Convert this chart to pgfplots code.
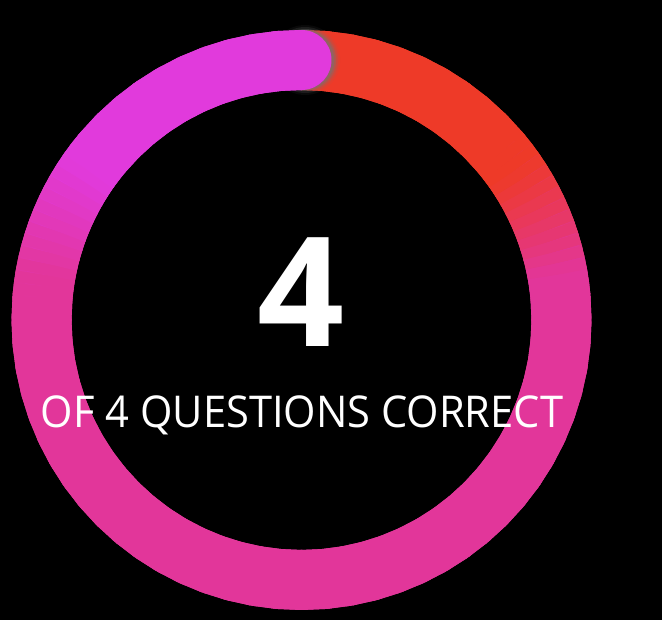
\documentclass[border=0pt]{standalone}
\usepackage{pgfplots}
\pgfplotsset{compat=1.18}
\usepackage{fontspec}
\setmainfont{Open Sans}
\pgfplotsset{colormap={ring}{rgb255(0)=(238,58,40) rgb255(55)=(238,58,40) rgb255(80)=(226,54,154) rgb255(280)=(226,54,154) rgb255(305)=(225,58,220) rgb255(360)=(225,58,220)}}
\pgfplotsset{
  ringA/.style={mesh,data cs=polar,point meta=explicit,line width=60bp,line cap=round,shader=flat},
  ringB/.style={mesh,data cs=polar,point meta=explicit,line width=60bp,line cap=butt,shader=flat}}
\def\partone{
(90,260)[0] (85,260)[5] (80,260)[10] (75,260)[15] (70,260)[20] (65,260)[25] (60,260)[30] (55,260)[35] (50,260)[40] (45,260)[45] (40,260)[50]
(37.5,260)[52.5] (35,260)[55] (32.5,260)[57.5] (30,260)[60] (27.5,260)[62.5] (25,260)[65] (22.5,260)[67.5] (20,260)[70] (17.5,260)[72.5] (15,260)[75] (12.5,260)[77.5] (10,260)[80] (7.5,260)[82.5] (5,260)[85]
(0,260)[90] (-5,260)[95] (-10,260)[100] (-15,260)[105] (-20,260)[110] (-25,260)[115] (-30,260)[120] (-35,260)[125] (-40,260)[130] (-45,260)[135] (-50,260)[140] (-55,260)[145] (-60,260)[150] (-65,260)[155] (-70,260)[160] (-75,260)[165] (-80,260)[170] (-85,260)[175] (-90,260)[180]
(-95,260)[185] (-100,260)[190] (-105,260)[195] (-110,260)[200] (-115,260)[205] (-120,260)[210] (-125,260)[215] (-130,260)[220] (-135,260)[225] (-140,260)[230] (-145,260)[235] (-150,260)[240] (-155,260)[245] (-160,260)[250] (-165,260)[255] (-170,260)[260] (-175,260)[265] (-180,260)[270] (-185,260)[275]
(-187.5,260)[277.5] (-190,260)[280] (-192.5,260)[282.5] (-195,260)[285] (-197.5,260)[287.5] (-200,260)[290] (-202.5,260)[292.5] (-205,260)[295] (-207.5,260)[297.5] (-210,260)[300] (-212.5,260)[302.5] (-215,260)[305] (-217.5,260)[307.5] (-220,260)[310]
(-225,260)[315] (-230,260)[320] (-235,260)[325] (-240,260)[330]}
\def\parttwo{
(-240,260)[330] (-245,260)[335] (-250,260)[340] (-255,260)[345] (-260,260)[350] (-265,260)[355] (-270,260)[360]}
\begin{document}
\begin{tikzpicture}
\begin{axis}[width=662bp,height=620bp,scale only axis,
  xmin=-301.5,xmax=360.5,ymin=-300,ymax=320,hide axis,clip=true,
  colormap name=ring,point meta min=0,point meta max=360]
\fill[black] (axis cs:-301.5,-300) rectangle (axis cs:360.5,320);
% ring: 4 of 4 correct = full turn, clockwise from 12 o'clock; meta = clockwise angle from top
\addplot[ringA] coordinates {\partone};
\addplot[ringB] coordinates {\partone};
% soft shadow under the end cap, slightly offset clockwise
\addplot[data cs=polar,line width=70bp,line cap=round,draw=black!55,opacity=0.08] coordinates {(89.2,260) (89.19,260)};
\addplot[data cs=polar,line width=66bp,line cap=round,draw=black!55,opacity=0.18] coordinates {(89.2,260) (89.19,260)};
\addplot[data cs=polar,line width=62bp,line cap=round,draw=black!55,opacity=0.35] coordinates {(89.2,260) (89.19,260)};
\addplot[data cs=polar,line width=60bp,line cap=round,draw=black!55,opacity=0.5] coordinates {(89.4,260) (89.39,260)};
\addplot[ringA] coordinates {\parttwo};
\addplot[ringB] coordinates {\parttwo};
\node[anchor=base,text=white,inner sep=0pt,font={\fontsize{153}{153}\selectfont\bfseries}] at (axis cs:-0.5,-27) {4};
\node[anchor=base,text=white,inner sep=0pt,font={\fontsize{44}{44}\selectfont}] at (axis cs:0.5,-108) {\scalebox{0.95}[1]{OF 4 QUESTIONS CORRECT}};
\end{axis}
\end{tikzpicture}
\end{document}
